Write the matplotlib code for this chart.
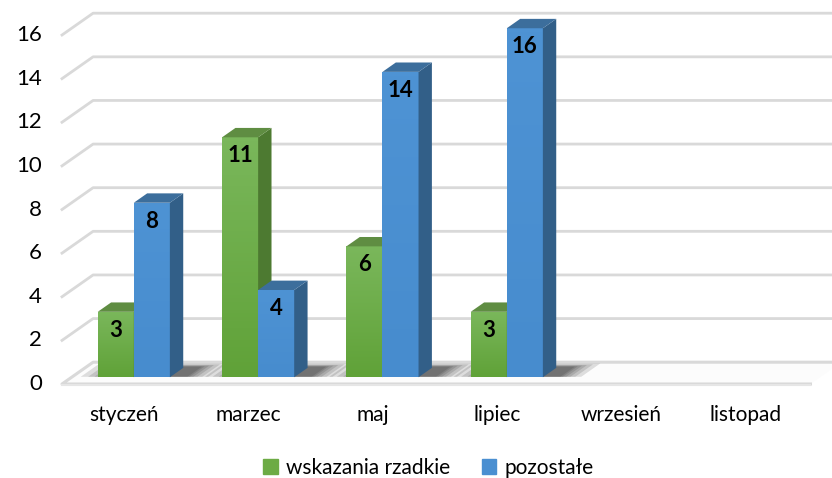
import numpy as np
import matplotlib.pyplot as plt
from matplotlib.patches import Polygon, Patch
from matplotlib.colors import LinearSegmentedColormap

plt.rcParams['font.family'] = ['Lato', 'DejaVu Sans']

months = ["styczeń", "marzec", "maj", "lipiec", "wrzesień", "listopad"]
rzadkie = [3, 11, 6, 3, None, None]
pozostale = [8, 4, 14, 16, None, None]
series_names = ["wskazania rzadkie", "pozostałe"]
yticks = list(range(0, 17, 2))

# colours: front (top, bottom), side, top
green = (("#7ab75b", "#60a238"), "#4d7a31", "#5f8d42")
blue = (("#4e93d4", "#478cce"), "#325f88", "#3c6e9c")

# fake 3d geometry (data units)
DX, DY = 0.25, 1.0      # depth of the whole floor
f0, f1 = 0.31, 0.74     # bar front / back as share of depth
bw = 0.29
grid_c = "#d9d9d9"
fs = 15

fig = plt.figure(figsize=(8.32, 4.78), dpi=100)
ax = fig.add_axes([0, 0, 1, 1])
ax.axis("off")

# floor
x0, x1 = -0.5, len(months) - 0.5 + 0.02
ax.add_patch(Polygon([(x0, 0), (x1, 0), (x1 + DX, DY), (x0 + DX, DY)],
                     closed=True, fc="#fcfcfc", ec="none", zorder=1))
ax.plot([x1, x0, x0 + DX, 5.8], [0, 0, DY, DY], color=grid_c, lw=2.2, zorder=1)
ax.plot([x0, x1], [-0.06, -0.06], color="#e6e6e6", lw=1.5, zorder=1)

# gridlines on side + back wall
for v in yticks[1:]:
    ax.plot([x0, x0 + DX, 5.8], [v, v + DY, v + DY], color=grid_c, lw=2, zorder=1)
for v in yticks:
    ax.text(x0 - 0.16, v, str(v), ha="right", va="center", fontsize=16)

# bar shadows on the floor
for i in range(len(months)):
    if rzadkie[i] is None:
        continue
    xs = i + f0 * DX
    for grow in [0.22, 0.16, 0.11, 0.07, 0.035, 0.01]:
        a = xs - bw - grow
        b = xs + bw + grow * 0.8 + 0.05
        d0, d1 = f0 + 0.02, min(f1 + 0.05 + grow * 0.7, 0.97)
        ax.add_patch(Polygon([(a + d0 * DX, d0 * DY), (b + d0 * DX, d0 * DY),
                              (b + d1 * DX, d1 * DY), (a + d1 * DX, d1 * DY)],
                             closed=True, fc="black", ec="none", alpha=0.12, zorder=2))


def bar3d(xl, val, cols):
    base = f0 * DY
    top = val + base
    xr = xl + bw
    bx, by = (f1 - f0) * DX, (f1 - f0) * DY
    front = ax.bar(xl, val, width=bw, bottom=base, align="edge", color=cols[0][1], zorder=3)[0]
    cmap = LinearSegmentedColormap.from_list("g", [cols[0][1], cols[0][0]])
    grad = np.linspace(0, 1, 64).reshape(-1, 1)
    im = ax.imshow(grad, cmap=cmap, origin="lower", aspect="auto",
                   extent=(xl, xr, base, top), zorder=3)
    im.set_clip_path(front)
    ax.add_patch(Polygon([(xr, base), (xr + bx, base + by), (xr + bx, top + by), (xr, top)],
                         closed=True, fc=cols[1], ec="none", zorder=3))
    ax.add_patch(Polygon([(xl, top), (xl + bx, top + by), (xr + bx, top + by), (xr, top)],
                         closed=True, fc=cols[2], ec="none", zorder=3))
    ax.text(xl + bw / 2, top - 0.85, str(val), ha="center", va="center",
            fontsize=16, fontweight="bold", zorder=4)


for i in range(len(months)):
    xs = i + f0 * DX
    if rzadkie[i] is not None:
        bar3d(xs - bw, rzadkie[i], green)
    if pozostale[i] is not None:
        bar3d(xs, pozostale[i], blue)

ax.set_xlim(-0.9987, 5.693)
ax.set_ylim(-4.309, 17.605)

for i, m in enumerate(months):
    ax.text(i, -1.42, m, ha="center", va="center", fontsize=fs)

handles = [Patch(color="#6dab45"), Patch(color="#4a8fd1")]
fig.legend(handles, series_names, loc="center", bbox_to_anchor=(0.515, 0.021), ncol=2,
           frameon=False, fontsize=fs, handlelength=0.7, handleheight=0.7,
           handletextpad=0.4, columnspacing=1.5)

fig.savefig("out.png", dpi=100)
